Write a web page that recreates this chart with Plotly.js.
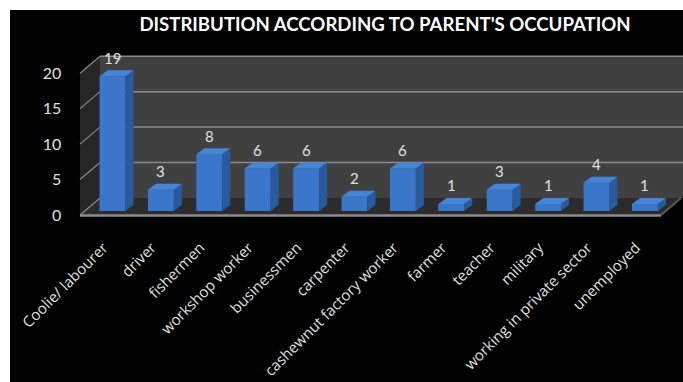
<!DOCTYPE html>
<html>
<head>
<meta charset="utf-8">
<script src="https://cdn.plot.ly/plotly-3.0.1.min.js"></script>
<style>html,body{margin:0;padding:0;background:#fff;}#chart{width:683px;height:382px;}</style>
</head>
<body>
<div id="chart"></div>
<script>
// ---- data ----
const categories = ["Coolie/ labourer", "driver", "fishermen", "workshop worker", "businessmen",
  "carpenter", "cashewnut factory worker", "farmer", "teacher", "military",
  "working in private sector", "unemployed"];
const counts = [19, 3, 8, 6, 6, 2, 6, 1, 3, 1, 4, 1];
const yTickVals = [0, 5, 10, 15, 20];
const chartTitle = "DISTRIBUTION ACCORDING TO PARENT'S OCCUPATION";

// ---- geometry (pixels) ----
const W = 683, H = 382;
const px = v => v / W;
const py = v => 1 - v / H;
const yZeroPx = 211, yTopPx = 69.2, yMax = 20;
const unitPx = (yZeroPx - yTopPx) / yMax;
const xLeftPx = 88.3, xRightPx = 669.1;
const slotPx = (xRightPx - xLeftPx) / categories.length;
const barFrac = 0.535;
const halfW = barFrac * slotPx / 2;
const depthX = 8, depthY = 6;

// floor / wall planes
const frontL = 80, frontR = 661, frontZero = 215;
const wallDX = 20, wallDY = 17;
const backZero = frontZero - wallDY;

const shapes = [];
// black background
shapes.push({type:'rect', xref:'paper', yref:'paper', x0:px(10), x1:1, y0:0, y1:py(10),
  fillcolor:'#000', line:{width:0}, layer:'below'});
// back wall
shapes.push({type:'rect', xref:'paper', yref:'paper', x0:px(frontL+wallDX), x1:1,
  y0:py(backZero), y1:py(backZero - yMax*unitPx), fillcolor:'#404040', line:{width:0}, layer:'below'});
// left wall
shapes.push({type:'path', xref:'paper', yref:'paper', layer:'below', fillcolor:'#262626', line:{width:0},
  path:`M ${px(frontL)} ${py(frontZero)} L ${px(frontL)} ${py(frontZero - yMax*unitPx)} L ${px(frontL+wallDX)} ${py(backZero - yMax*unitPx)} L ${px(frontL+wallDX)} ${py(backZero)} Z`});
// floor
shapes.push({type:'path', xref:'paper', yref:'paper', layer:'below', fillcolor:'#2c2c2c', line:{width:0},
  path:`M ${px(frontL)} ${py(frontZero)} L ${px(frontR)} ${py(frontZero)} L ${px(frontR+wallDX)} ${py(backZero)} L ${px(frontL+wallDX)} ${py(backZero)} Z`});
// floor front edge
shapes.push({type:'line', xref:'paper', yref:'paper', layer:'below',
  x0:px(frontL), x1:px(frontR), y0:py(frontZero+0.5), y1:py(frontZero+0.5), line:{color:'#8c8c8c', width:2.5}});
shapes.push({type:'line', xref:'paper', yref:'paper', layer:'below',
  x0:px(frontR), x1:px(frontR+wallDX), y0:py(frontZero), y1:py(backZero), line:{color:'#5a5a5a', width:2}});
// grid lines on walls
yTickVals.forEach(v => {
  const yb = backZero - v*unitPx, yf = frontZero - v*unitPx;
  if (v > 0) {
    shapes.push({type:'line', xref:'paper', yref:'paper', layer:'below',
      x0:px(frontL+wallDX), x1:1, y0:py(yb), y1:py(yb), line:{color:'#8a8a8a', width:1.5}});
  }
  shapes.push({type:'line', xref:'paper', yref:'paper', layer:'below',
    x0:px(frontL), x1:px(frontL+wallDX), y0:py(yf), y1:py(yb), line:{color:'#8a8a8a', width:1.2}});
});

// 3D faces of bars (side and top), anchored to each bar through the axes
counts.forEach((v, i) => {
  const h = v * unitPx;
  shapes.push({type:'path', xref:'x', yref:'y', xsizemode:'pixel', ysizemode:'pixel',
    xanchor:i, yanchor:v, fillcolor:'#285a9e', line:{width:0},
    path:`M ${halfW} 0 L ${halfW+depthX} ${depthY} L ${halfW+depthX} ${depthY-h} L ${halfW} ${-h} Z`});
  shapes.push({type:'path', xref:'x', yref:'y', xsizemode:'pixel', ysizemode:'pixel',
    xanchor:i, yanchor:v, fillcolor:'#4684d8', line:{width:0},
    path:`M ${-halfW} 0 L ${halfW} 0 L ${halfW+depthX} ${depthY} L ${-halfW+depthX} ${depthY} Z`});
});

const xIdx = categories.map((c, i) => i);
const annotations = counts.map((v, i) => ({
  x: i, y: v, xref:'x', yref:'y', text: String(v), showarrow:false,
  yshift: 18.5, xanchor:'center', yanchor:'middle',
  font:{family:'Lato, sans-serif', size:15, color:'#e0e0e0'}
}));

const trace = {
  type:'bar', x:xIdx, y:counts, width:barFrac,
  marker:{color:'#3a77cb', line:{width:0}},
  hoverinfo:'skip'
};

const layout = {
  width:W, height:H, autosize:false,
  margin:{l:0, r:0, t:0, b:0},
  paper_bgcolor:'#ffffff', plot_bgcolor:'rgba(0,0,0,0)',
  showlegend:false,
  title:{text:'<b>'+chartTitle+'</b>', x:px(385), y:py(24.5), xref:'paper', yref:'paper',
    xanchor:'center', yanchor:'middle', font:{family:'Lato, sans-serif', size:18.6, color:'#ffffff'}},
  xaxis:{domain:[px(xLeftPx), px(xRightPx)], range:[-0.5, categories.length-0.5],
    tickvals:xIdx, ticktext:categories, tickangle:-45, showgrid:false, zeroline:false,
    showline:false, ticks:'', automargin:false, ticklabelstandoff:24, ticklabelshift:-9,
    tickfont:{family:'"Open Sans", sans-serif', size:15, color:'#e0e0e0'}},
  yaxis:{domain:[py(yZeroPx), py(yTopPx)], range:[0, yMax], tickvals:yTickVals,
    showgrid:false, zeroline:false, showline:false, ticks:'', automargin:false,
    ticklabelstandoff:26, ticklabelshift:4,
    tickfont:{family:'Lato, sans-serif', size:16, color:'#e0e0e0'}},
  shapes:shapes,
  annotations:annotations
};

Plotly.newPlot('chart', [trace], layout, {displayModeBar:false, staticPlot:true});
</script>
</body>
</html>
